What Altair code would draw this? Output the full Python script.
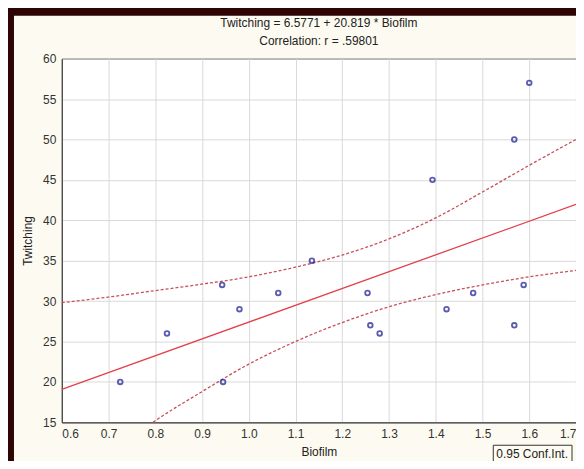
import altair as alt
import pandas as pd

# ---- data ----
biofilm = [0.725, 0.825, 0.943, 0.945, 0.98, 1.063, 1.135, 1.254, 1.26, 1.28,
           1.393, 1.423, 1.48, 1.568, 1.568, 1.588, 1.6]
twitching = [20, 26, 32, 20, 29, 31, 35, 31, 27, 26,
             45, 29, 31, 50, 27, 32, 57]

reg_x = [0.6, 1.7]
reg_y = [19.07, 41.97]

up_x = [0.6, 0.7, 0.8, 0.9, 1.0, 1.1, 1.2, 1.3, 1.4, 1.5, 1.6, 1.7]
up_y = [29.8, 30.5, 31.3, 32.1, 33.0, 34.2, 35.7, 37.7, 40.3, 43.5, 46.8, 50.0]

lo_x = [0.795, 0.8, 0.9, 1.0, 1.1, 1.2, 1.3, 1.4, 1.5, 1.6, 1.7]
lo_y = [15.0, 15.2, 18.8, 22.2, 25.0, 27.35, 29.3, 30.8, 32.0, 33.0, 33.8]

x_ticks = [0.6, 0.7, 0.8, 0.9, 1.0, 1.1, 1.2, 1.3, 1.4, 1.5, 1.6, 1.7]
y_ticks = [15, 20, 25, 30, 35, 40, 45, 50, 55, 60]

title_line = "Twitching = 6.5771 + 20.819 * Biofilm"
subtitle_line = "Correlation: r = .59801"
legend_label = "0.95 Conf.Int."

FONT = "Liberation Sans"
W, H = 516, 365

pts = pd.DataFrame({"Biofilm": biofilm, "Twitching": twitching})
reg = pd.DataFrame({"Biofilm": reg_x, "Twitching": reg_y})
up = pd.DataFrame({"Biofilm": up_x, "Twitching": up_y})
lo = pd.DataFrame({"Biofilm": lo_x, "Twitching": lo_y})

xs = alt.Scale(domain=[0.6, 1.7], nice=False, zero=False)
ys = alt.Scale(domain=[15, 60], nice=False, zero=False)

X = alt.X("Biofilm:Q", scale=xs, axis=alt.Axis(
    values=x_ticks, format=".1f", title="Biofilm", titleX=258, titleY=29,
    titleBaseline="middle"))
Y = alt.Y("Twitching:Q", scale=ys, axis=alt.Axis(
    values=y_ticks, format="d", title="Twitching", titleX=-34, titleY=H / 2,
    titleBaseline="middle", titleAngle=-90))

points = alt.Chart(pts).mark_point(
    shape="circle", filled=False, size=22, strokeWidth=1.8, color="#16168e"
).encode(x=X, y=Y)

reg_line = alt.Chart(reg).mark_line(color="#e2404c", strokeWidth=1.3).encode(x=X, y=Y)
up_line = alt.Chart(up).mark_line(color="#c8505c", strokeWidth=1.3,
                                  strokeDash=[3, 2], interpolate="monotone").encode(x=X, y=Y)
lo_line = alt.Chart(lo).mark_line(color="#c8505c", strokeWidth=1.3,
                                  strokeDash=[3, 2], interpolate="monotone").encode(x=X, y=Y)

# slide background strips and legend box (decoration)
dummy = pd.DataFrame({"a": [0]})
top_strip = alt.Chart(dummy).mark_rect(color="#2e0404").encode(
    x=alt.value(-60), x2=alt.value(600), y=alt.value(-52), y2=alt.value(-43))
left_strip = alt.Chart(dummy).mark_rect(color="#2e0404").encode(
    x=alt.value(-60), x2=alt.value(-48), y=alt.value(-52), y2=alt.value(420))
legend_box = alt.Chart(dummy).mark_rect(
    fill="#fdfbf2", stroke="#333", strokeWidth=1).encode(
    x=alt.value(433), x2=alt.value(512), y=alt.value(388), y2=alt.value(406))
legend_text = alt.Chart(dummy).mark_text(
    text=legend_label, font=FONT, fontSize=12, color="#222", align="left",
    baseline="middle").encode(x=alt.value(436), y=alt.value(397))

title1 = alt.Chart(dummy).mark_text(
    text=title_line, font=FONT, fontSize=12, color="#222", align="center",
    baseline="middle").encode(x=alt.value(258), y=alt.value(-36))
title2 = alt.Chart(dummy).mark_text(
    text=subtitle_line, font=FONT, fontSize=12, color="#222", align="center",
    baseline="middle").encode(x=alt.value(258), y=alt.value(-18))

chart = alt.layer(
    top_strip, left_strip, reg_line, up_line, lo_line, points,
    legend_box, legend_text, title1, title2
).properties(
    width=W, height=H,
    padding={"left": 54, "top": 50, "right": 0, "bottom": 38},
    autosize=alt.AutoSizeParams(type="none"),
    background="#fdfbf1",
).configure_view(
    fill="white", stroke="#333", strokeWidth=1
).configure_axis(
    grid=True, gridColor="#d9d9d9", gridWidth=1,
    domain=True, domainColor="#333", ticks=False, labelPadding=6,
    labelFont=FONT, labelFontSize=12, labelColor="#333",
    titleFont=FONT, titleFontSize=12, titleFontWeight="normal", titleColor="#222"
)

chart.save("out.html", embed_options={"renderer": "svg", "actions": False})
